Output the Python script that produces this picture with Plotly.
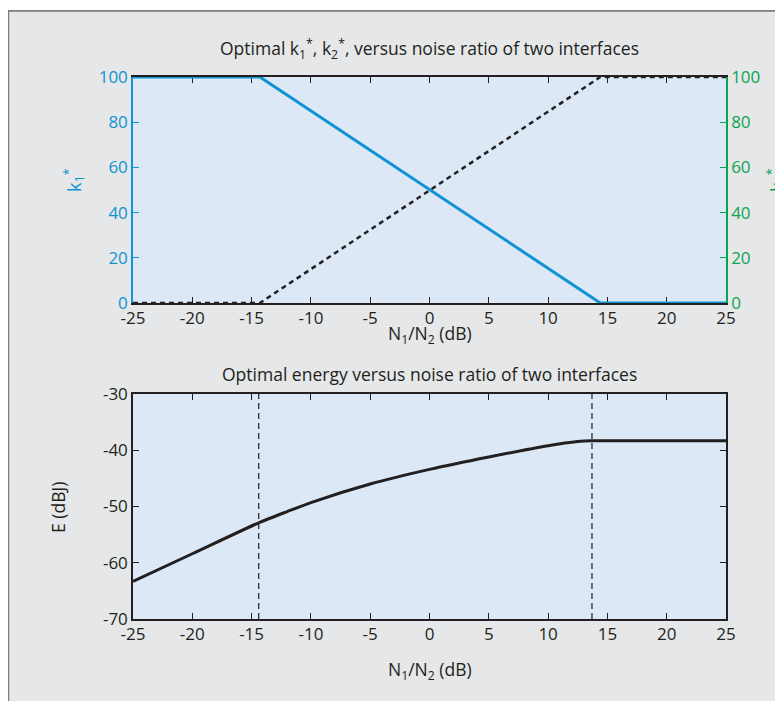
import plotly.graph_objects as go

# ---------------- data ----------------
x_k = [-25, -14.3, 14.4, 25]
k1 = [100, 100, 0, 0]
k2 = [0, 0, 100, 100]

x_e = [-25, -20, -14.4, -12, -10, -5, 0, 5, 10, 12.5, 13.7, 15, 20, 25]
energy = [-63.3, -58.4, -52.9, -50.9, -49.3, -46.0, -43.4, -41.2, -39.2, -38.45, -38.3, -38.3, -38.3, -38.3]

x_vlines = [-14.4, 13.7]
vline_y = [-70, -30]

x_ticks = [-25, -20, -15, -10, -5, 0, 5, 10, 15, 20, 25]
x_ticktext = ["-25", "-20", "-15", "-10", "-5", "0", "5", "10", "15", "20", "25"]
k_ticks = [0, 20, 40, 60, 80, 100]
k_ticktext = ["0", "20", "40", "60", "80", "100"]
e_ticks = [-70, -60, -50, -40, -30]
e_ticktext = ["-70", "-60", "-50", "-40", "-30"]

title_top = "Optimal k<sub>1</sub><sup>*</sup>, k<sub>2</sub><sup>*</sup>, versus noise ratio of two interfaces"
title_bot = "Optimal energy versus noise ratio of two interfaces"
xlabel = "N<sub>1</sub>/N<sub>2</sub> (dB)"
ylabel_k1 = "k<sub>1</sub><sup>*</sup>"
ylabel_k2 = "k<sub>2</sub><sup>*</sup>"
ylabel_e = "E (dBJ)"

# ---------------- style ----------------
W, H = 783, 701
OFF = 8  # page body margin
BLUE = "#0f93d2"
GREEN = "#0aa550"
TXT = "#231f20"
PANEL = "#e6e7e8"
PLOTBG = "#dce8f5"
FONT = "Open Sans"
FS = 17

def px_x(p):
    return (p - OFF) / W

def px_y(p):
    return 1 - (p - OFF) / H

x_dom = [px_x(133), px_x(726)]
top_dom = [px_y(303), px_y(77)]
bot_dom = [px_y(619), px_y(394)]

fig = go.Figure()

fig.add_trace(go.Scatter(x=x_k, y=k1, mode="lines", line=dict(color=BLUE, width=3),
                         xaxis="x", yaxis="y", showlegend=False))
fig.add_trace(go.Scatter(x=x_k, y=k2, mode="lines", line=dict(color="#231f20", width=2.5, dash="5px,4px"),
                         xaxis="x", yaxis="y2", showlegend=False))
for xv in x_vlines:
    fig.add_trace(go.Scatter(x=[xv, xv], y=vline_y, mode="lines",
                             line=dict(color="#231f20", width=1.2, dash="6px,4px"),
                             xaxis="x2", yaxis="y3", showlegend=False))
fig.add_trace(go.Scatter(x=x_e, y=energy, mode="lines",
                         line=dict(color="#231f20", width=3, shape="spline", smoothing=0.6),
                         xaxis="x2", yaxis="y3", showlegend=False))

tickfont = dict(family=FONT, size=FS, color=TXT)
common_x = dict(range=[-25, 25], tickvals=x_ticks, ticktext=x_ticktext, ticks="inside", ticklen=6,
                tickwidth=1.3, tickcolor=TXT, showline=True, linecolor=TXT, linewidth=1.5,
                mirror="ticks", showgrid=False, zeroline=False, tickfont=tickfont,
                layer="below traces", domain=x_dom, automargin=False, ticklabelstandoff=-1)

fig.update_layout(
    width=W, height=H, autosize=False,
    margin=dict(l=0, r=0, t=0, b=0, pad=0, autoexpand=False),
    paper_bgcolor=PANEL, plot_bgcolor=PLOTBG,
    showlegend=False,
    xaxis=dict(anchor="y", **common_x),
    yaxis=dict(domain=top_dom, anchor="x", range=[0, 100], tickvals=k_ticks, ticktext=k_ticktext,
               ticks="inside", ticklen=6, tickwidth=1.3, tickcolor=BLUE,
               showline=True, linecolor=BLUE, linewidth=1.5, showgrid=False, zeroline=False,
               tickfont=dict(family=FONT, size=FS, color=BLUE), layer="below traces",
               automargin=False),
    yaxis2=dict(overlaying="y", side="right", anchor="x", range=[0, 100], tickvals=k_ticks,
                ticktext=k_ticktext, ticks="inside", ticklen=6, tickwidth=1.3, tickcolor=GREEN,
                showline=True, linecolor=GREEN, linewidth=1.5, showgrid=False, zeroline=False,
                tickfont=dict(family=FONT, size=FS, color=GREEN), layer="below traces",
                automargin=False),
    xaxis2=dict(anchor="y3", **common_x),
    yaxis3=dict(domain=bot_dom, anchor="x2", range=[-70, -30], tickvals=e_ticks, ticktext=e_ticktext,
                ticks="inside", ticklen=6, tickwidth=1.3, tickcolor=TXT,
                showline=True, linecolor=TXT, linewidth=1.5, mirror="ticks",
                showgrid=False, zeroline=False, tickfont=tickfont, layer="below traces",
                automargin=False),
)

ann_font = dict(family=FONT, size=17.5, color=TXT)
annotations = [
    dict(text=title_top, x=px_x(430), y=px_y(49), font=ann_font),
    dict(text=title_bot, x=px_x(430), y=px_y(374), font=ann_font),
    dict(text=xlabel, x=px_x(430), y=px_y(334), font=ann_font),
    dict(text=xlabel, x=px_x(430), y=px_y(670), font=ann_font),
    dict(text=ylabel_k1, x=px_x(74), y=px_y(180), textangle=-90,
         font=dict(family=FONT, size=18, color=BLUE)),
    dict(text=ylabel_k2, x=px_x(777), y=px_y(180), textangle=-90,
         font=dict(family=FONT, size=18, color=GREEN)),
    dict(text=ylabel_e, x=px_x(58), y=px_y(508), textangle=-90, font=ann_font),
]
for a in annotations:
    a.update(xref="paper", yref="paper", showarrow=False, xanchor="center", yanchor="middle")
fig.update_layout(annotations=annotations)

shapes = [
    dict(type="rect", xref="paper", yref="paper", x0=0, x1=1, y0=px_y(10), y1=1,
         fillcolor="white", line=dict(width=0), layer="below"),
    dict(type="line", xref="paper", yref="paper", x0=0, x1=1, y0=px_y(10.9), y1=px_y(10.9),
         line=dict(color="#7d7d7d", width=1.8), layer="below"),
    dict(type="line", xref="paper", yref="paper", x0=0.5 / W, x1=0.5 / W, y0=0, y1=px_y(10),
         line=dict(color="#7d7d7d", width=1.5), layer="below"),
]
fig.update_layout(shapes=shapes)

fig.write_html("out.html")
